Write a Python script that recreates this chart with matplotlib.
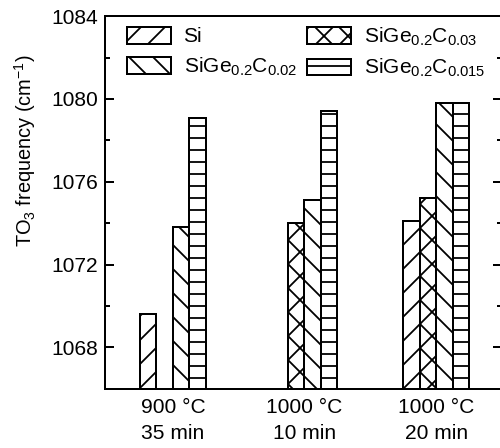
import numpy as np
import matplotlib
matplotlib.use("Agg")
import matplotlib.pyplot as plt
from matplotlib.ticker import MultipleLocator

plt.rcParams['font.family'] = ['Liberation Sans', 'DejaVu Sans']
plt.rcParams['mathtext.fontset'] = 'custom'
plt.rcParams['mathtext.rm'] = 'Liberation Sans'
plt.rcParams['mathtext.default'] = 'regular'
plt.rcParams['hatch.linewidth'] = 1.8

# anneal conditions and TO3 peak positions (cm^-1), nan = not measured
conditions = ['900 °C\n35 min', '1000 °C\n10 min', '1000 °C\n20 min']
si = [1069.6, np.nan, 1074.1]
c003 = [np.nan, 1074.0, 1075.2]
c002 = [1073.8, 1075.1, 1079.8]
c0015 = [1079.1, 1079.4, 1079.8]

labels = ['Si', 'SiGe$_{0.2}$C$_{0.03}$', 'SiGe$_{0.2}$C$_{0.02}$', 'SiGe$_{0.2}$C$_{0.015}$']
hatches = ['/', 'x', '\\', '-']
series = [si, c003, c002, c0015]

fig = plt.figure(figsize=(500 / 72, 448 / 72), dpi=72)
ax = fig.add_axes([0.21, 0.132, 0.794, 0.832])

x = np.arange(len(conditions))
w = 0.125
bars = []
for i, vals in enumerate(series):
    b = ax.bar(x + (i - 1.5) * w, vals, w, color='white', edgecolor='black',
               linewidth=2, hatch=hatches[i], label=labels[i])
    bars.append(b)

ax.set_xlim(-0.515, 2.5)
ax.set_ylim(1066, 1084)
ax.yaxis.set_major_locator(MultipleLocator(4))
ax.yaxis.set_minor_locator(MultipleLocator(2))
ax.tick_params(axis='y', which='both', direction='in', right=True, width=2,
               labelsize=21, pad=7)
ax.tick_params(axis='y', which='major', length=9)
ax.tick_params(axis='y', which='minor', length=5)
ax.set_xticks(x)
ax.set_xticklabels(conditions, fontsize=21, linespacing=1.5)
ax.tick_params(axis='x', length=0, pad=9)
for s in ax.spines.values():
    s.set_linewidth(2)

ax.set_ylabel('TO$_3$ frequency (cm$^{-1}$)', fontsize=20)
ax.yaxis.set_label_coords(-0.168, 0.64)

# legend: column 1 Si / C0.02, column 2 C0.03 / C0.015
order = [0, 2, 1, 3]
ax.legend([bars[k] for k in order], [labels[k] for k in order], ncol=2,
          loc='upper left', bbox_to_anchor=(0.055, 0.975), frameon=False,
          fontsize=21, handlelength=2.1, handleheight=0.85,
          handletextpad=0.6, columnspacing=0.5, labelspacing=0.45,
          borderpad=0, borderaxespad=0)

fig.savefig('out.png', dpi=72)
